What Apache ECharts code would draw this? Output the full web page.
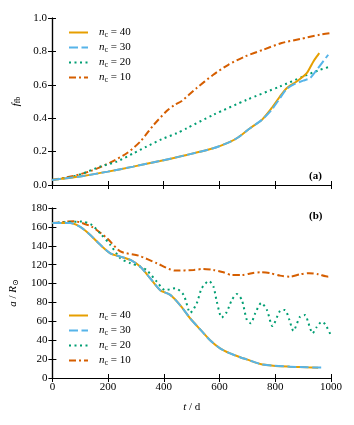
<!DOCTYPE html>
<html>
<head>
<meta charset="utf-8">
<script src="https://cdn.jsdelivr.net/npm/echarts@6/dist/echarts.min.js"></script>
<style>
  html, body { margin: 0; padding: 0; background: #fff; }
  #chart { width: 354px; height: 425px; }
</style>
</head>
<body>
<div id="chart"></div>
<script>
// panel (a): f_fb against t
const tA40 = [0, 50, 112, 200, 291, 387, 483, 578, 640, 668, 710, 752, 787, 817, 841, 877, 913, 937, 958]
const fA40 = [0.03, 0.04, 0.054, 0.08, 0.11, 0.144, 0.18, 0.22, 0.26, 0.286, 0.34, 0.39, 0.46, 0.53, 0.58, 0.62, 0.67, 0.74, 0.79]
const tA30 = [0, 50, 112, 200, 291, 387, 483, 578, 640, 668, 710, 752, 787, 817, 841, 870, 900, 925, 949, 972, 990]
const fA30 = [0.03, 0.04, 0.054, 0.08, 0.11, 0.144, 0.18, 0.22, 0.26, 0.286, 0.34, 0.39, 0.45, 0.52, 0.575, 0.605, 0.625, 0.64, 0.69, 0.74, 0.78]
const tA20 = [0, 64, 112, 172, 232, 292, 339, 393, 447, 483, 578, 698, 817, 901, 961, 1000]
const fA20 = [0.03, 0.046, 0.07, 0.11, 0.14, 0.19, 0.23, 0.274, 0.31, 0.34, 0.42, 0.51, 0.59, 0.65, 0.69, 0.71]
const tA10 = [0, 77, 142, 208, 268, 318, 363, 411, 437, 465, 518, 578, 632, 692, 757, 823, 889, 961, 1000]
const fA10 = [0.03, 0.054, 0.086, 0.134, 0.19, 0.263, 0.357, 0.443, 0.477, 0.503, 0.58, 0.66, 0.72, 0.77, 0.81, 0.85, 0.874, 0.9, 0.91]

// panel (b): a / R_sun against t
const tB40 = [0, 64, 100, 136, 172, 208, 244, 280, 315, 351, 387, 423, 459, 495, 530, 566, 602, 638, 674, 710, 746, 793, 853, 913, 954]
const aB40 = [164, 164, 160, 151.5, 141, 132, 128.5, 125, 118, 105.6, 93, 88, 77, 63, 51.6, 40, 31.4, 26, 22, 18.4, 14.8, 13, 12, 11.3, 10.9]
const tB30 = [0, 64, 100, 136, 172, 208, 244, 280, 315, 351, 387, 423, 459, 495, 530, 566, 602, 638, 674, 710, 746, 793, 853, 913, 954, 978]
const aB30 = [164, 164, 160, 151.5, 141, 132, 128.5, 125, 118, 105.6, 93, 88, 77, 63, 51.6, 40, 31.4, 26, 22, 18.4, 14.8, 13, 12, 11.3, 11.2, 11.3]
const tB20 = [0, 50, 106, 142, 172, 208, 244, 280, 315, 339, 375, 405, 441, 471, 495, 518, 536, 562, 578, 590, 608, 626, 644, 662, 680, 698, 712, 728, 750, 770, 790, 817, 835, 850, 865, 889, 907, 919, 934, 948, 967, 979, 1000]
const aB20 = [164, 165, 165.6, 162, 153, 141, 126.8, 121.5, 118, 114, 102, 93, 95, 88, 69, 79, 95, 102.7, 96.7, 81, 64, 70, 82.6, 89, 82.6, 61.4, 58, 68.5, 79.5, 72, 55, 71, 72, 62, 50, 65, 66.7, 58, 47.3, 53.7, 59.6, 57, 45]
const tB10 = [0, 77, 142, 196, 244, 310, 375, 441, 507, 542, 578, 614, 644, 680, 716, 748, 781, 817, 853, 889, 921, 954, 990, 1000]
const aB10 = [164, 166, 160, 148, 134, 129.5, 121.5, 113.7, 114.4, 115.5, 114.4, 112, 109, 109, 111, 112, 111, 108.4, 107.3, 109.8, 111, 109.8, 107.3, 107.5]

const ncValues = [40, 30, 20, 10]
const colors = ['#E69F00', '#56B4E9', '#009E73', '#D55E00']
const dashes = ['solid', [9, 3.5], [2, 3.5], [7, 3, 2, 3]]
const zOrder = [10, 11, 9, 8]

const serif = '"Liberation Serif", "DejaVu Serif", serif'
const rich = {
  i: { fontFamily: serif, fontSize: 11, fontStyle: 'italic', color: '#000' },
  s: { fontFamily: serif, fontSize: 8, color: '#000', padding: [5, 0, 0, 0] },
  r: { fontFamily: serif, fontSize: 11, color: '#000' }
}

const pair = (ts, vs) => ts.map((t, k) => [t, vs[k]])

const chart = echarts.init(document.getElementById('chart'))

const boxAxis = {
  axisLine: { show: true, lineStyle: { color: '#000', width: 1.2 } },
  axisTick: { show: true, inside: true, length: 4, lineStyle: { color: '#000' } },
  splitLine: { show: false },
  axisLabel: { fontFamily: serif, fontSize: 11, color: '#000' }
}

function xPair(grid, withLabels) {
  return [
    Object.assign({}, boxAxis, {
      gridIndex: grid, type: 'value', min: 0, max: 1000, interval: 200, position: 'bottom',
      axisLabel: Object.assign({}, boxAxis.axisLabel, { show: withLabels, margin: 4, formatter: v => String(v) }),
      name: withLabels ? '{i|t}{r| / d}' : '',
      nameLocation: 'middle', nameGap: 24,
      nameTextStyle: { rich: rich }
    }),
    Object.assign({}, boxAxis, {
      gridIndex: grid, type: 'value', min: 0, max: 1000, interval: 200, position: 'top',
      axisLabel: { show: false }
    })
  ]
}

const series = []
const groupsA = [[tA40, fA40], [tA30, fA30], [tA20, fA20], [tA10, fA10]]
const groupsB = [[tB40, aB40], [tB30, aB30], [tB20, aB20], [tB10, aB10]]
ncValues.forEach((v, k) => {
  const common = {
    name: 'nc' + v,
    type: 'line',
    showSymbol: false,
    symbol: 'none',
    smooth: 0.25,
    color: colors[k],
    lineStyle: { color: colors[k], width: 2, type: dashes[k] },
    z: zOrder[k]
  }
  series.push(Object.assign({}, common, { xAxisIndex: 0, yAxisIndex: 0, data: pair(groupsA[k][0], groupsA[k][1]) }))
  series.push(Object.assign({}, common, { xAxisIndex: 2, yAxisIndex: 2, data: pair(groupsB[k][0], groupsB[k][1]) }))
})

const legendBase = {
  orient: 'vertical',
  left: 63,
  itemWidth: 19,
  itemHeight: 10,
  itemGap: 3,
  itemStyle: { opacity: 0 },
  data: ncValues.map(v => 'nc' + v),
  formatter: name => '{i|n}{s|c}{r| = ' + name.slice(2) + '}',
  textStyle: { rich: rich, padding: [0, 0, 0, 6] }
}

chart.setOption({
  animation: false,
  grid: [
    { left: 52, right: 23, top: 18, height: 167 },
    { left: 52, right: 23, top: 208, height: 170 }
  ],
  xAxis: xPair(0, false).concat(xPair(1, true)),
  yAxis: [
    Object.assign({}, boxAxis, {
      gridIndex: 0, type: 'value', min: 0, max: 1, interval: 0.2, position: 'left',
      axisLabel: Object.assign({}, boxAxis.axisLabel, { formatter: v => v.toFixed(1), margin: 5 }),
      name: '{i|f}{s|fb}', nameLocation: 'middle', nameGap: 24, nameRotate: 90,
      nameTextStyle: { rich: rich }
    }),
    Object.assign({}, boxAxis, {
      gridIndex: 0, type: 'value', min: 0, max: 1, interval: 0.2, position: 'right',
      axisLabel: { show: false }
    }),
    Object.assign({}, boxAxis, {
      gridIndex: 1, type: 'value', min: 0, max: 180, interval: 20, position: 'left',
      axisLabel: Object.assign({}, boxAxis.axisLabel, { margin: 5 }),
      name: '{i|a}{r| / }{i|R}{s|⊙}', nameLocation: 'middle', nameGap: 22, nameRotate: 90,
      nameTextStyle: { rich: rich }
    }),
    Object.assign({}, boxAxis, {
      gridIndex: 1, type: 'value', min: 0, max: 180, interval: 20, position: 'right',
      axisLabel: { show: false }
    })
  ],
  legend: [
    Object.assign({}, legendBase, { top: 22 }),
    Object.assign({}, legendBase, { top: 305 })
  ],
  graphic: [
    { type: 'text', left: 309, top: 171, style: { text: '(a)', font: 'bold 11px ' + serif, fill: '#000' } },
    { type: 'text', left: 309, top: 211, style: { text: '(b)', font: 'bold 11px ' + serif, fill: '#000' } }
  ],
  series: series
})
</script>
</body>
</html>
